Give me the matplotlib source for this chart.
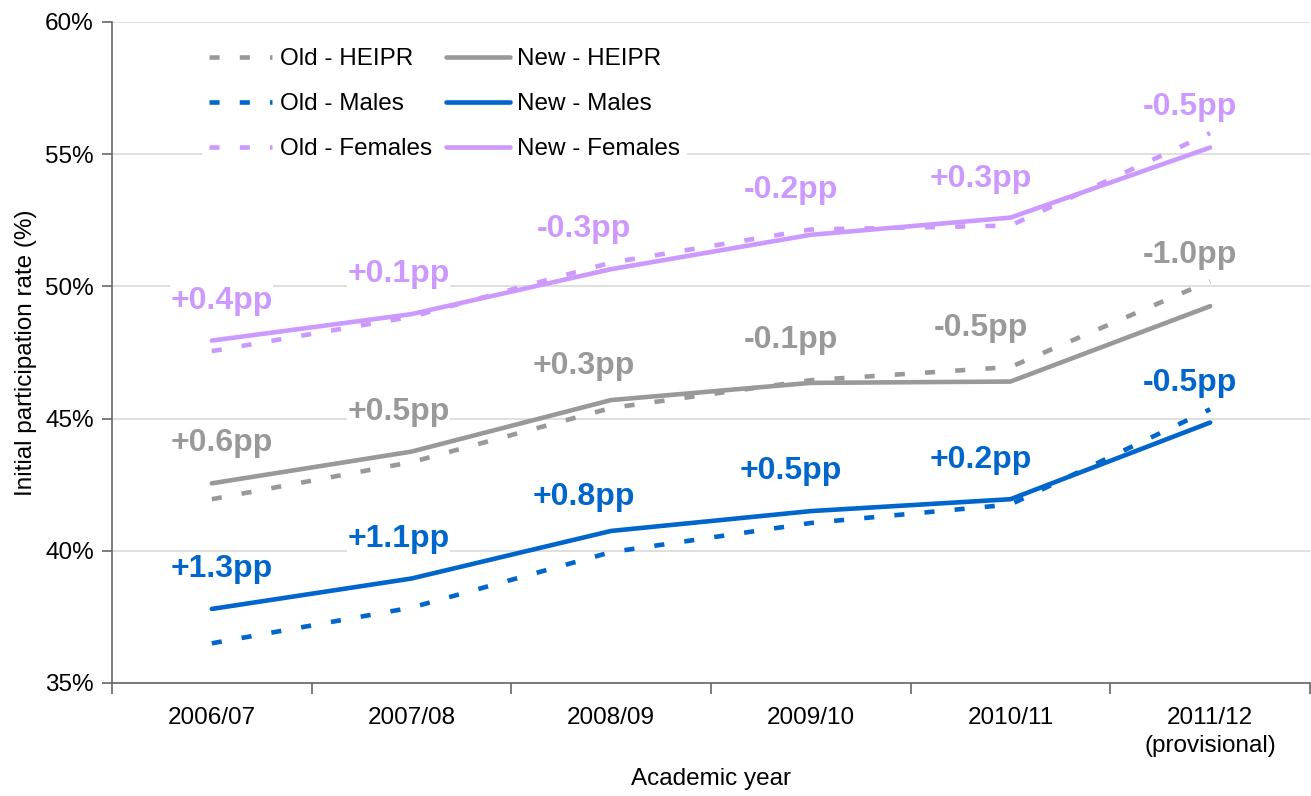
import matplotlib
matplotlib.use("Agg")
import matplotlib.pyplot as plt
import numpy as np
from matplotlib.ticker import FixedLocator, PercentFormatter

years = ["2006/07", "2007/08", "2008/09", "2009/10", "2010/11", "2011/12\n(provisional)"]

old_heipr = [41.95, 43.35, 45.40, 46.45, 46.95, 50.20]
new_heipr = [42.55, 43.75, 45.70, 46.35, 46.40, 49.25]
old_males = [36.50, 37.85, 39.95, 41.05, 41.75, 45.35]
new_males = [37.80, 38.95, 40.75, 41.50, 41.95, 44.85]
old_females = [47.55, 48.85, 50.90, 52.15, 52.30, 55.80]
new_females = [47.95, 48.95, 50.65, 51.95, 52.60, 55.25]

heipr_labels = ["+0.6pp", "+0.5pp", "+0.3pp", "-0.1pp", "-0.5pp", "-1.0pp"]
males_labels = ["+1.3pp", "+1.1pp", "+0.8pp", "+0.5pp", "+0.2pp", "-0.5pp"]
females_labels = ["+0.4pp", "+0.1pp", "-0.3pp", "-0.2pp", "+0.3pp", "-0.5pp"]

C_GREY = "#999999"
C_BLUE = "#0066CC"
C_LILAC = "#CC99FF"
DASH = (0, (2.2, 4.4))

plt.rcParams.update({
    "font.family": ["Liberation Sans", "DejaVu Sans"],
    "font.size": 17.5,
})

fig = plt.figure(figsize=(13.11, 7.96), dpi=100)
ax = fig.add_axes([0.0854, 0.142, 0.9138, 0.8304])
x = np.arange(len(years))

series = [
    ("HEIPR", old_heipr, new_heipr, heipr_labels, C_GREY),
    ("Males", old_males, new_males, males_labels, C_BLUE),
    ("Females", old_females, new_females, females_labels, C_LILAC),
]

old_handles, new_handles = [], []
for name, old, new, labels, col in series:
    h_old, = ax.plot(x, old, color=col, lw=3.3, linestyle=DASH, label=f"Old - {name}", zorder=3)
    h_new, = ax.plot(x, new, color=col, lw=3.3, solid_capstyle="round", label=f"New - {name}", zorder=3)
    old_handles.append(h_old)
    new_handles.append(h_new)

# label offsets in pixels (x shift per year, y above the higher line)
dx = [10, -13, -27, -20, -30, -20]
dy = [40, 40, 34, 40, 39, 26]
for name, old, new, labels, col in series:
    for i, lab in enumerate(labels):
        ytop = max(old[i], new[i])
        ax.annotate(lab, (x[i], ytop), xytext=(dx[i], dy[i]), textcoords="offset pixels",
                    ha="center", va="center", fontsize=23, fontweight="bold", color=col,
                    bbox=dict(facecolor="white", edgecolor="none", pad=0.3), zorder=4)

ax.set_xlim(-0.5, 5.5)
ax.set_ylim(35, 60)
ax.set_yticks(np.arange(35, 61, 5))
ax.yaxis.set_major_formatter(PercentFormatter(decimals=0))
ax.set_xticks(x)
ax.set_xticklabels(years, linespacing=1.35)
ax.xaxis.set_minor_locator(FixedLocator(np.arange(-0.5, 6, 1)))
ax.tick_params(axis="x", which="major", length=0, pad=17, labelsize=17.5)
ax.tick_params(axis="x", which="minor", length=8, width=1.2, color="#666666")
ax.tick_params(axis="y", length=7, width=1.2, color="#666666", labelsize=17.5, pad=6)

ax.grid(axis="y", color="#D9D9D9", lw=1.2, zorder=0)
ax.set_axisbelow(True)
for s in ["top", "right"]:
    ax.spines[s].set_visible(False)
for s in ["left", "bottom"]:
    ax.spines[s].set_color("#666666")
    ax.spines[s].set_linewidth(1.2)

ax.set_xlabel("Academic year", fontsize=17.5, labelpad=8)
ax.set_ylabel("Initial participation rate (%)", fontsize=17.5, labelpad=6)

leg = ax.legend(handles=old_handles + new_handles, ncol=2, loc="upper left",
                bbox_to_anchor=(0.065, 0.99), frameon=True, fontsize=17.5,
                handlelength=2.6, handletextpad=0.3, columnspacing=0.6,
                labelspacing=0.95, borderpad=0.3)
leg.get_frame().set_facecolor("white")
leg.get_frame().set_edgecolor("none")
leg.get_frame().set_alpha(1)
leg.set_zorder(5)

fig.savefig("out.png", dpi=100)
